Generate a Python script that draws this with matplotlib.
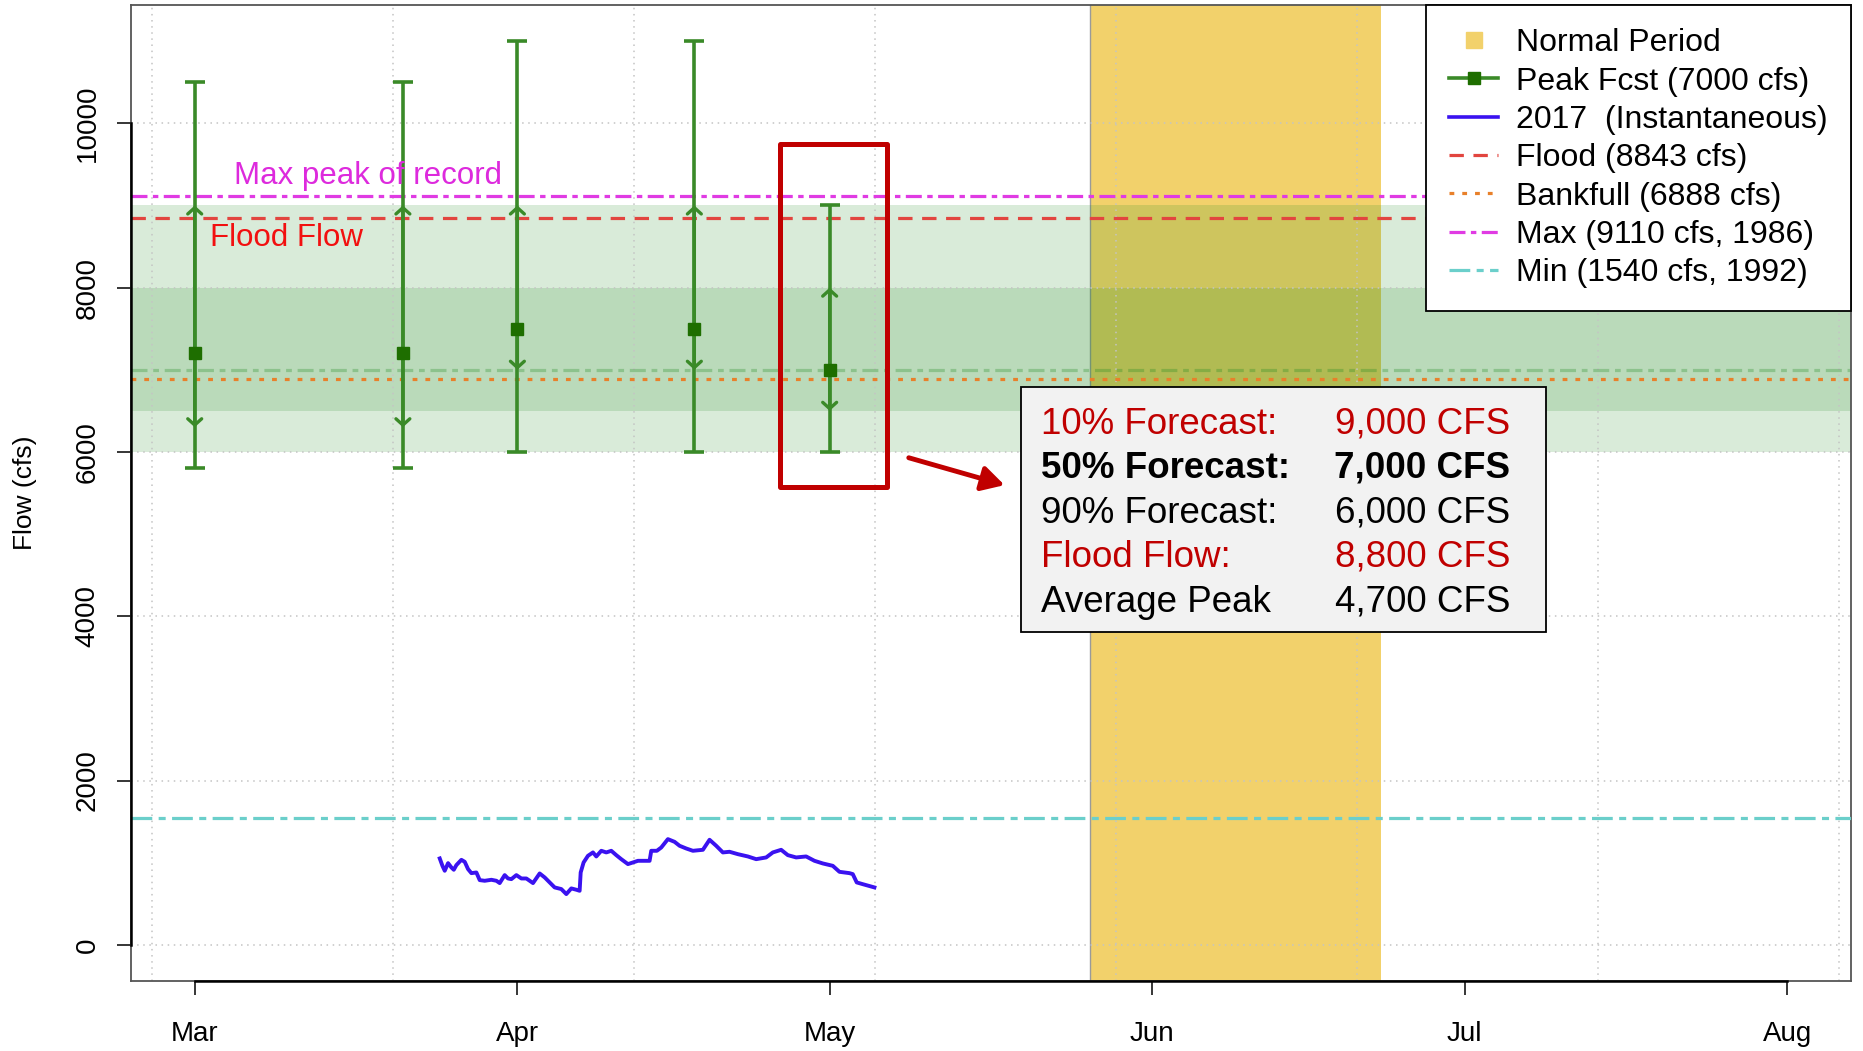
import numpy as np
import matplotlib
matplotlib.use("Agg")
import matplotlib.pyplot as plt
import matplotlib.dates as mdates
import matplotlib.transforms as mtrans
from matplotlib.lines import Line2D
from matplotlib.patches import Rectangle

plt.rcParams['font.family'] = ['Liberation Sans', 'DejaVu Sans']

# ---------------- data ----------------
fcst_dates = ['2017-03-01', '2017-03-21', '2017-04-01', '2017-04-18', '2017-05-01']
fcst_p90 = [5800, 5800, 6000, 6000, 6000]      # lower cap
fcst_p75 = [6300, 6300, 7000, 7000, 6500]      # lower arrow
fcst_p50 = [7200, 7200, 7500, 7500, 7000]      # median (square)
fcst_p25 = [9000, 9000, 9000, 9000, 8000]      # upper arrow
fcst_p10 = [10500, 10500, 11000, 11000, 9000]  # upper cap

band_outer = [6000, 9000]
band_inner = [6500, 8000]
flood_cfs = 8843
bankfull_cfs = 6888
max_cfs = 9110
min_cfs = 1540
peak_fcst_cfs = 7000
normal_period = ['2017-05-26', '2017-06-23']

flow_start = '2017-03-01'
flow_days = [23.54, 23.80, 24.02, 24.34, 24.66, 24.89, 25.14, 25.62, 25.94, 26.26,
             26.58, 27.06, 27.38, 27.86, 28.50, 28.98, 29.30, 29.78, 30.10, 30.42,
             30.90, 31.38, 31.86, 32.18, 32.50, 33.14, 33.62, 34.10, 34.58, 35.22,
             35.70, 36.18, 36.66, 36.98, 37.08, 37.36, 37.78, 38.26, 38.58, 39.06,
             39.54, 40.02, 40.50, 40.98, 41.62, 42.10, 42.58, 43.70, 43.86, 44.40,
             44.82, 45.46, 46.10, 46.58, 47.22, 47.86, 48.82, 49.46, 50.10, 50.74,
             51.38, 52.18, 53.14, 53.94, 54.90, 55.54, 56.34, 56.98, 57.78, 58.74,
             59.54, 60.34, 61.30, 61.94, 62.90, 63.22, 63.60, 64.17, 65.30]
flow_cfs = [1052, 962, 902, 995, 942, 914, 971, 1035, 1011, 922,
            873, 881, 788, 780, 792, 780, 752, 849, 808, 800,
            849, 808, 808, 780, 752, 869, 821, 760, 699, 679,
            618, 687, 671, 658, 881, 1003, 1084, 1125, 1076, 1145,
            1125, 1145, 1092, 1043, 983, 1003, 1023, 1023, 1145, 1145,
            1185, 1287, 1254, 1206, 1173, 1145, 1157, 1279, 1206, 1125,
            1133, 1104, 1076, 1043, 1064, 1125, 1157, 1092, 1064, 1076,
            1023, 991, 962, 889, 873, 861, 760, 739, 699]

month_ticks = ['2017-03-01', '2017-04-01', '2017-05-01', '2017-06-01', '2017-07-01', '2017-08-01']
month_labels = ['Mar', 'Apr', 'May', 'Jun', 'Jul', 'Aug']
y_ticks = [0, 2000, 4000, 6000, 8000, 10000]

box_rows = [("10% Forecast:", "9,000 CFS", '#C00000', 'normal'),
            ("50% Forecast:", "7,000 CFS", 'black', 'bold'),
            ("90% Forecast:", "6,000 CFS", 'black', 'normal'),
            ("Flood Flow:", "8,800 CFS", '#C00000', 'normal'),
            ("Average Peak", "4,700 CFS", 'black', 'normal')]

# ---------------- styles ----------------
GREEN = '#3A8A28'
SQ = '#1E6E00'
GOLD = '#F2D16B'
BLUE = '#3A12F0'
RED_L = '#E2453F'
ORANGE = '#E8802A'
MAGENTA = '#E03BE3'
CYAN = '#6BCFCB'
LS_FLOOD = (0, (4.5, 3.0))
LS_BANK = (0, (1.5, 2.5))
LS_MAX = (0, (5, 1.7, 1.7, 1.7))
LS_MIN = (0, (6.5, 2, 2.2, 2))

fig = plt.figure(figsize=(18.63, 10.51), dpi=100)
ax = fig.add_axes([0.07032, 0.0666, 0.92324, 0.92864])

def d2n(s):
    return mdates.date2num(np.array(s, dtype='datetime64[D]'))

xf = d2n(fcst_dates)
mt = d2n(month_ticks)
x0, x1 = mt[0], mt[-1]
padx = 0.04 * (x1 - x0)
ax.set_xlim(x0 - padx, x1 + padx)
ax.set_ylim(-440, 11440)

# normal period
ns, ne = d2n(normal_period)
ax.axvspan(ns, ne, color=GOLD, lw=0, zorder=0.5)
ax.axvline(ns, color='#9a9a9a', lw=1.0, zorder=0.6)

# forecast bands
ax.axhspan(band_outer[0], band_outer[1], color='#228B22', alpha=0.17, lw=0, zorder=1)
ax.axhspan(band_inner[0], band_inner[1], color='#228B22', alpha=0.17, lw=0, zorder=1)

# grid (x grid at R-pretty POSIXct positions, 2e6 s apart)
grid_x = np.arange(1488e6, 1502.1e6, 2e6) / 86400.0 - 7 / 24.0
for gx in grid_x:
    ax.axvline(gx, color='#c4c4c4', lw=1.1, ls=(0, (1, 3)), zorder=1.5)
for gy in y_ticks:
    ax.axhline(gy, color='#c4c4c4', lw=1.1, ls=(0, (1, 3)), zorder=1.5)

# reference lines
ax.axhline(peak_fcst_cfs, color='#228B22', alpha=0.3, lw=2.3, ls=(0, (5, 1.8, 1.8, 1.8)), zorder=2.5)
ax.axhline(max_cfs, color=MAGENTA, lw=2.3, ls=LS_MAX, zorder=3)
ax.axhline(flood_cfs, color=RED_L, lw=2.3, ls=LS_FLOOD, zorder=3)
ax.axhline(bankfull_cfs, color=ORANGE, lw=2.3, ls=LS_BANK, zorder=3)
ax.axhline(min_cfs, color=CYAN, lw=2.3, ls=LS_MIN, zorder=3)

# 2017 flow
flow_x = d2n(flow_start) + np.array(flow_days)
ax.plot(flow_x, flow_cfs, color=BLUE, lw=2.8, zorder=4)

# forecast error bars
ax.vlines(xf, fcst_p90, fcst_p10, color=GREEN, lw=2.6, zorder=5)
ax.plot(xf, fcst_p90, ls='none', marker='_', ms=14.5, mew=2.6, color=GREEN, zorder=5)
ax.plot(xf, fcst_p10, ls='none', marker='_', ms=14.5, mew=2.6, color=GREEN, zorder=5)
for x, m, up, lo in zip(xf, fcst_p50, fcst_p25, fcst_p75):
    for tgt in (up, lo):
        ax.annotate('', xy=(x, tgt), xytext=(x, m),
                    arrowprops=dict(arrowstyle='->,head_length=0.45,head_width=0.5',
                                    color=GREEN, lw=2.4, shrinkA=0, shrinkB=0,
                                    mutation_scale=10), zorder=5)
ax.plot(xf, fcst_p50, ls='none', marker='s', ms=8.4, color=SQ, zorder=6)

# annotations
ax.text(mt[0] + 3.8, 9265, "Max peak of record", color='#DD2ADD', fontsize=22.5,
        va='baseline', ha='left', zorder=7)
ax.text(mt[0] + 1.45, 8503, "Flood Flow", color='#F21010', fontsize=22.5,
        va='baseline', ha='left', zorder=7)

# highlight rectangle around latest forecast
xl = xf[-1]
ax.add_patch(Rectangle((xl - 4.8, 5576), 10.3, 9751 - 5576, fill=False,
                       ec='#C00000', lw=3.6, joinstyle='round', zorder=8))
ax.annotate('', xy=(mt[0] + 77.8, 5596), xytext=(mt[0] + 68.6, 5929),
            arrowprops=dict(arrowstyle='-|>,head_length=0.45,head_width=0.25',
                            color='#C00000', lw=3.5, shrinkA=0, shrinkB=0,
                            mutation_scale=30), zorder=8)

# info box
ax.add_patch(Rectangle((0.5173, 0.3575), 0.3053, 0.2508, transform=ax.transAxes,
                       fc='#F2F2F2', ec='black', lw=1.3, zorder=15))
row_y = [0.5608, 0.5158, 0.4696, 0.4245, 0.3782]
for (lab, val, col, wt), yy in zip(box_rows, row_y):
    ax.text(0.529, yy, lab, transform=ax.transAxes, color=col, fontweight=wt,
            fontsize=26.5, va='baseline', ha='left', zorder=16)
    ax.text(0.8017, yy, val, transform=ax.transAxes, color=col, fontweight=wt,
            fontsize=26.5, va='baseline', ha='right', zorder=16)

# axes styling
ax.set_xticks(mt)
ax.set_xticklabels(month_labels)
ax.set_yticks(y_ticks)
ax.set_yticklabels([str(v) for v in y_ticks])
for lab in ax.get_yticklabels():
    lab.set_rotation(90)
    lab.set_va('center')
    lab.set_ha('right')
ax.tick_params(axis='both', length=10, width=1.1, color='black', labelsize=20, direction='out')
ax.tick_params(axis='x', pad=18.5)
ax.tick_params(axis='y', pad=12)
ax.set_ylabel("Flow (cfs)", fontsize=19, labelpad=27)
for sp in ax.spines.values():
    sp.set_color('#555555')
    sp.set_linewidth(1.3)
tl = mtrans.blended_transform_factory(ax.transAxes, ax.transData)
ax.plot([0, 0], [y_ticks[0], y_ticks[-1]], transform=tl, color='black', lw=1.8,
        clip_on=False, zorder=20)
tb = mtrans.blended_transform_factory(ax.transData, ax.transAxes)
ax.plot([mt[0], mt[-1]], [0, 0], transform=tb, color='black', lw=1.8,
        clip_on=False, zorder=20)

# legend
handles = [
    Line2D([], [], ls='none', marker='s', ms=11.5, color=GOLD),
    Line2D([], [], color=GREEN, lw=2.6, marker='s', ms=9, mfc=SQ, mec=SQ),
    Line2D([], [], color=BLUE, lw=2.6),
    Line2D([], [], color=RED_L, lw=2.3, ls=LS_FLOOD),
    Line2D([], [], color=ORANGE, lw=2.3, ls=LS_BANK),
    Line2D([], [], color=MAGENTA, lw=2.3, ls=LS_MAX),
    Line2D([], [], color=CYAN, lw=2.3, ls=LS_MIN),
]
labels = ["Normal Period", "Peak Fcst (7000 cfs)", "2017  (Instantaneous)",
          "Flood (8843 cfs)", "Bankfull (6888 cfs)", "Max (9110 cfs, 1986)",
          "Min (1540 cfs, 1992)"]
leg = ax.legend(handles, labels, loc='upper right', bbox_to_anchor=(1, 1),
                borderaxespad=0, fontsize=23, handlelength=1.55, handletextpad=0.55,
                labelspacing=0.26, borderpad=0.73, fancybox=False, framealpha=1,
                edgecolor='black')
leg.get_frame().set_linewidth(1.3)
leg.set_zorder(30)

fig.savefig("out.png", dpi=100)
